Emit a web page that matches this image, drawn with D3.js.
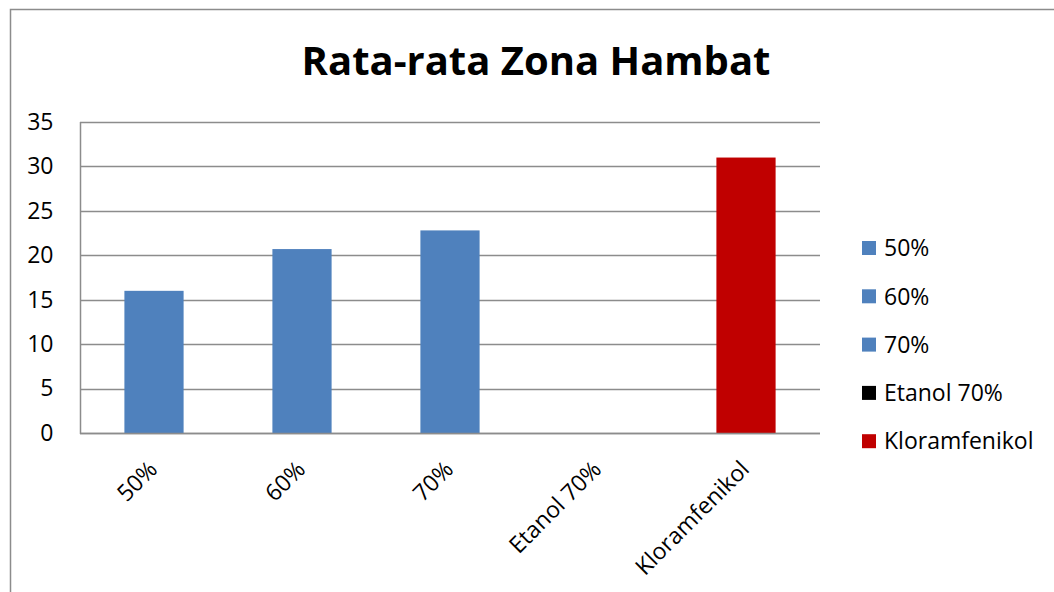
<!DOCTYPE html>
<html>
<head>
<meta charset="utf-8">
<script src="https://cdn.jsdelivr.net/npm/d3@7"></script>
<style>
  body { margin: 0; background: #fff; }
  text { font-family: "Open Sans", sans-serif; fill: #000; }
</style>
</head>
<body>
<svg id="chart" width="1054" height="592"></svg>
<script>
// data
var categories = ['50%', '60%', '70%', 'Etanol 70%', 'Kloramfenikol'];
var values = [16, 20.7, 22.8, 0, 31];
var colors = ['#4f81bd', '#4f81bd', '#4f81bd', '#000000', '#c00000'];
var yTicks = [0, 5, 10, 15, 20, 25, 30, 35];

var svg = d3.select('#chart');

// outer chart frame (runs off the right/bottom edge)
svg.append('path')
    .attr('d', 'M10.5,600 V9.5 H1060')
    .attr('fill', 'none')
    .attr('stroke', '#8c8c8c')
    .attr('stroke-width', 1.5);

var plot = { left: 80, right: 820, top: 122, bottom: 433 };

var x = d3.scaleBand()
    .domain(categories)
    .range([plot.left, plot.right])
    .paddingInner(0.6)
    .paddingOuter(0.3);

var y = d3.scaleLinear()
    .domain([0, 35])
    .range([plot.bottom, plot.top]);

// title
svg.append('text')
    .attr('x', 536)
    .attr('y', 75)
    .attr('text-anchor', 'middle')
    .attr('font-weight', 'bold')
    .attr('font-size', 40)
    .text('Rata-rata Zona Hambat');

// gridlines
svg.append('g')
  .selectAll('line')
    .data(yTicks).enter()
  .append('line')
    .attr('x1', plot.left)
    .attr('x2', plot.right)
    .attr('y1', function (d) { return Math.round(y(d)) + 0.5; })
    .attr('y2', function (d) { return Math.round(y(d)) + 0.5; })
    .attr('stroke', '#8c8c8c')
    .attr('stroke-width', 1.5);

// y axis line + labels
var yAxis = svg.append('g')
    .attr('transform', 'translate(' + (plot.left + 0.5) + ',0)')
    .call(d3.axisLeft(y).tickValues(yTicks).tickSize(0).tickPadding(27));
yAxis.select('.domain')
    .attr('d', 'M0,' + plot.top + 'V' + (plot.bottom + 1))
    .attr('stroke', '#8c8c8c')
    .attr('stroke-width', 1.5);
yAxis.selectAll('text')
    .attr('font-size', 23)
    .attr('font-family', '"Open Sans", sans-serif');

// bars
svg.append('g')
  .selectAll('rect')
    .data(values).enter()
  .append('rect')
    .attr('x', function (d, i) { return x(categories[i]); })
    .attr('width', x.bandwidth())
    .attr('y', function (d) { return y(d); })
    .attr('height', function (d) { return y(0) - y(d); })
    .attr('fill', function (d, i) { return colors[i]; });

// redraw baseline over bars
svg.append('line')
    .attr('x1', plot.left)
    .attr('x2', plot.right)
    .attr('y1', Math.round(y(0)) + 0.5)
    .attr('y2', Math.round(y(0)) + 0.5)
    .attr('stroke', '#8c8c8c')
    .attr('stroke-width', 1.5);

// rotated category labels
svg.append('g')
  .selectAll('text')
    .data(categories).enter()
  .append('text')
    .attr('transform', function (d) {
        var cx = x(d) + x.bandwidth() / 2;
        return 'translate(' + (cx - 7) + ',459) rotate(-45)';
    })
    .attr('text-anchor', 'end')
    .attr('dy', '0.72em')
    .attr('font-size', 23)
    .text(function (d) { return d; });

// legend
var legend = svg.append('g')
  .selectAll('g')
    .data(categories).enter()
  .append('g')
    .attr('transform', function (d, i) { return 'translate(862,' + (248 + i * 48.3) + ')'; });
legend.append('rect')
    .attr('x', 0)
    .attr('y', -7)
    .attr('width', 14)
    .attr('height', 14)
    .attr('fill', function (d, i) { return colors[i]; });
legend.append('text')
    .attr('x', 22)
    .attr('y', 0)
    .attr('dy', '0.36em')
    .attr('font-size', 23)
    .text(function (d) { return d; });
</script>
</body>
</html>
